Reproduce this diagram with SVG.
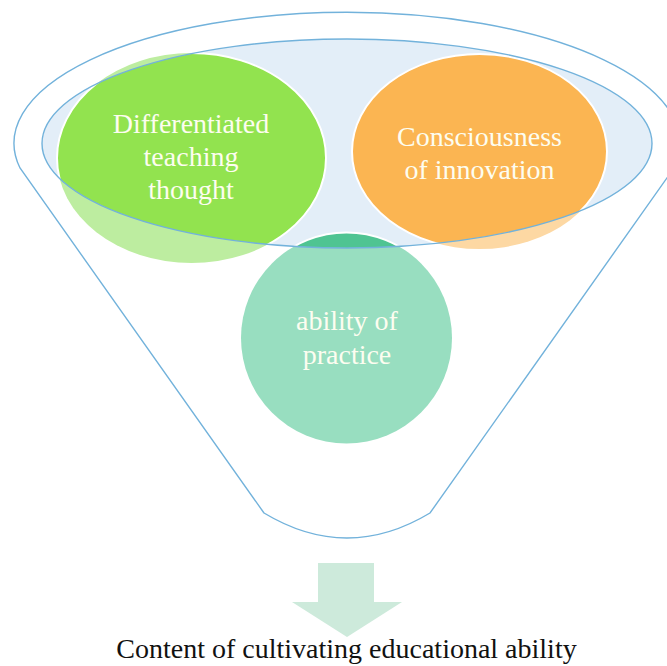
<svg xmlns="http://www.w3.org/2000/svg" width="667" height="666" viewBox="0 0 667 666">
  <style>
    .line { fill: none; stroke: #72b2db; stroke-width: 1.4; }
    .edge { fill: none; stroke: #ffffff; stroke-width: 2; }
    .lbl { font-family: "Liberation Serif", "Times New Roman", serif; font-size: 28px; fill: #fdfdf0; text-anchor: middle; }
    .cap { font-family: "Liberation Serif", "Times New Roman", serif; font-size: 28px; fill: #111111; text-anchor: middle; }
  </style>
  <defs>
    <clipPath id="inner">
      <ellipse cx="347" cy="143.5" rx="305" ry="104.5"/>
    </clipPath>
  </defs>
  <rect width="667" height="666" fill="#ffffff"/>

  <g id="funnel">
    <path class="line" d="M 264,513 L 20,168 A 333 131 0 1 1 674,168 L 430,513 Q 347,563 264,513 Z"/>
  </g>

  <!-- faded parts of the nodes outside the funnel mouth -->
  <g id="faded">
    <ellipse cx="191.5" cy="158" rx="134.5" ry="105" fill="#bdeda0"/>
    <ellipse cx="479.5" cy="151.5" rx="127.5" ry="97.5" fill="#fdd8a3"/>
    <circle cx="346.5" cy="338" r="105.5" fill="#98dec0"/>
  </g>

  <g id="mouth">
    <ellipse cx="347" cy="143.5" rx="305" ry="104.5" fill="#e3eef8"/>
  </g>

  <g id="node-differentiated">
    <ellipse cx="191.5" cy="158" rx="134.5" ry="105" fill="#92e34f" clip-path="url(#inner)"/>
    <ellipse class="edge" cx="191.5" cy="158" rx="134.5" ry="105" clip-path="url(#inner)"/>
    <text class="lbl" x="191" y="133">Differentiated</text>
    <text class="lbl" x="191" y="166">teaching</text>
    <text class="lbl" x="191" y="199">thought</text>
  </g>

  <g id="node-consciousness">
    <ellipse cx="479.5" cy="151.5" rx="127.5" ry="97.5" fill="#fbb552" clip-path="url(#inner)"/>
    <ellipse class="edge" cx="479.5" cy="151.5" rx="127.5" ry="97.5" clip-path="url(#inner)"/>
    <text class="lbl" x="479.5" y="146">Consciousness</text>
    <text class="lbl" x="479.5" y="179">of innovation</text>
  </g>

  <g id="node-practice">
    <circle cx="346.5" cy="338" r="105.5" fill="#4fc492" clip-path="url(#inner)"/>
    <circle class="edge" cx="346.5" cy="338" r="105.5" clip-path="url(#inner)"/>
    <text class="lbl" x="347" y="330">ability of</text>
    <text class="lbl" x="347" y="364">practice</text>
  </g>

  <g id="mouth-outline">
    <ellipse class="line" cx="347" cy="143.5" rx="305" ry="104.5"/>
  </g>

  <g id="connectors">
    <path d="M 318,563 L 374,563 L 374,602 L 402,602 L 347,637 L 292,602 L 318,602 Z" fill="#cdeadb"/>
  </g>

  <g id="result">
    <text class="cap" x="346.5" y="658">Content of cultivating educational ability</text>
  </g>
</svg>
